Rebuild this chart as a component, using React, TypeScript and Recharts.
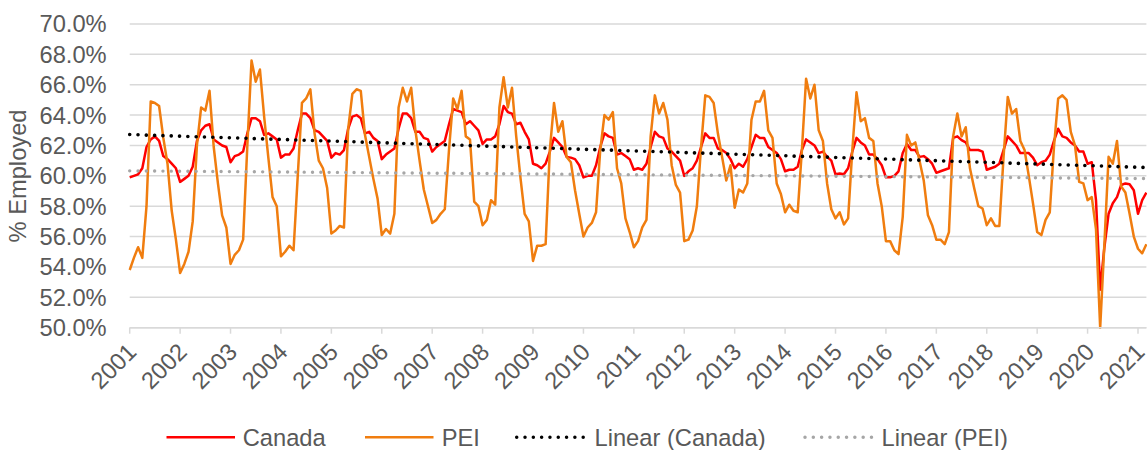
import React from 'react';
import { LineChart, Line, XAxis, YAxis, CartesianGrid, Legend } from 'recharts';

// Monthly employment rate (%), Jan 2001 – Mar 2021
const canada: number[] = [
  59.9, 60.0, 60.1, 60.5, 61.9, 62.4, 62.6, 62.3, 61.3, 61.1, 60.8, 60.5,
  59.6, 59.8, 60.0, 60.6, 62.3, 63.0, 63.3, 63.4, 62.4, 62.2, 62.0, 61.9,
  60.9, 61.3, 61.4, 61.6, 62.8, 63.8, 63.8, 63.6, 62.7, 62.8, 62.6, 62.4,
  61.2, 61.4, 61.4, 61.8, 63.0, 64.1, 64.1, 63.8, 63.0, 62.9, 62.6, 62.3,
  61.2, 61.5, 61.4, 61.7, 63.1, 63.9, 64.0, 63.8, 62.8, 62.9, 62.5, 62.3,
  61.1, 61.4, 61.6, 61.8, 63.1, 64.1, 64.1, 63.8, 62.9, 62.9, 62.5, 62.4,
  61.6, 61.9, 62.1, 62.3, 63.4, 64.4, 64.3, 64.2, 63.4, 63.6, 63.3, 63.0,
  62.1, 62.4, 62.4, 62.6, 63.4, 64.6, 64.2, 64.1, 63.4, 63.5, 62.9, 62.4,
  60.8, 60.7, 60.5, 60.8, 61.6, 62.5, 62.2, 61.9, 61.25, 61.2, 61.1, 60.7,
  59.9, 60.0, 60.0, 60.7, 61.9, 62.8, 62.6, 62.5, 61.4, 61.5, 61.3, 61.1,
  60.4, 60.5, 60.4, 60.8, 61.9, 62.9, 62.6, 62.5, 61.8, 61.6, 61.3, 61.0,
  60.0, 60.3, 60.5, 61.0, 61.9, 62.8, 62.5, 62.5, 61.8, 61.7, 61.5, 61.1,
  60.5, 60.8, 60.6, 61.1, 61.9, 62.7, 62.5, 62.5, 61.9, 61.7, 61.5, 61.1,
  60.3, 60.4, 60.4, 60.6, 61.7, 62.4, 62.2, 62.0, 61.5, 61.6, 61.25, 61.0,
  60.1, 60.15, 60.1, 60.5, 61.6, 62.5, 62.2, 62.0, 61.4, 61.4, 61.1, 60.7,
  59.9, 59.9, 60.0, 60.3, 61.5, 62.1, 61.7, 61.7, 61.25, 61.3, 61.1, 60.8,
  60.2, 60.3, 60.4, 60.5, 62.5, 62.6, 62.35, 62.2, 61.7, 61.7, 61.7, 61.6,
  60.4, 60.5, 60.6, 60.8, 61.7, 62.6, 62.3, 62.0, 61.5, 61.5, 61.5, 61.2,
  60.7, 60.9, 61.0, 61.4, 62.3, 63.1, 62.6, 62.5, 62.2, 62.0, 61.6, 61.6,
  60.8, 60.9, 58.4, 52.5, 55.3, 57.5, 58.2, 58.6, 59.4, 59.5, 59.45, 59.05,
  57.5, 58.4, 58.9,
];

const pei: number[] = [
  53.8, 54.6, 55.3, 54.6, 58.0, 64.9, 64.8, 64.6, 62.5, 60.8, 57.7, 55.8,
  53.6, 54.2, 55.0, 57.0, 62.0, 64.5, 64.3, 65.6, 61.9, 59.5, 57.4, 56.6,
  54.2, 54.8, 55.1, 55.8, 62.0, 67.6, 66.2, 67.0, 63.9, 61.2, 58.6, 58.0,
  54.7, 55.0, 55.4, 55.1, 60.0, 64.8, 65.1, 65.7, 62.8, 61.0, 60.5, 59.2,
  56.2, 56.4, 56.7, 56.6, 63.1, 65.4, 65.7, 65.6, 62.7, 61.25, 59.8, 58.5,
  56.1, 56.5, 56.2, 57.5, 64.5, 65.8, 64.9, 65.8, 63.0, 61.0, 59.1, 58.0,
  56.9, 57.1, 57.5, 57.8, 61.7, 65.1, 64.4, 65.6, 62.6, 62.4, 58.3, 58.0,
  56.75, 57.1, 58.4, 58.1, 64.5, 66.5, 64.5, 65.8, 62.6, 59.9, 57.5, 57.0,
  54.4, 55.4, 55.4, 55.5, 61.7, 64.8, 62.9, 63.6, 61.25, 60.9, 59.05, 57.5,
  56.0, 56.6, 56.9, 57.6, 61.7, 64.0, 63.7, 64.2, 60.5, 59.5, 57.2, 56.3,
  55.3, 55.7, 56.6, 57.1, 62.6, 65.3, 64.1, 64.8, 63.7, 60.7, 59.4, 58.9,
  55.7, 55.8, 56.4, 58.0, 61.9, 65.3, 65.2, 64.8, 62.8, 61.25, 59.7, 60.7,
  57.9, 59.1, 58.9, 59.5, 63.7, 64.9, 64.9, 65.6, 63.0, 62.5, 59.5, 58.8,
  57.6, 58.1, 57.7, 57.6, 61.7, 66.4, 65.1, 66.0, 63.0, 62.3, 59.5, 57.8,
  57.2, 57.6, 56.8, 57.2, 61.7, 65.5, 63.6, 63.8, 62.5, 62.3, 59.5, 58.0,
  55.7, 55.7, 55.1, 54.85, 57.3, 62.7, 62.0, 62.2, 61.0, 59.7, 57.4, 56.75,
  55.8, 55.8, 55.5, 56.3, 62.6, 64.1, 62.6, 63.2, 60.5, 59.2, 58.0, 57.85,
  56.75, 57.2, 56.7, 56.7, 61.25, 65.2, 64.1, 64.4, 62.3, 61.7, 60.0, 58.2,
  56.3, 56.1, 57.1, 57.6, 61.9, 65.1, 65.3, 65.0, 62.9, 62.0, 59.6, 59.5,
  58.4, 58.6, 56.5, 50.0, 55.5, 61.25, 60.8, 62.3, 59.3, 58.9, 57.5, 56.0,
  55.2, 54.9, 55.5,
];

// Linear trend lines: value at first and last month
const trendCanadaEnds: number[] = [62.72, 60.55];
const trendPeiEnds: number[] = [60.33, 59.82];

const yTicks: number[] = [50, 52, 54, 56, 58, 60, 62, 64, 66, 68, 70];
const monthCodes: string[] = ['01', '02', '03', '04', '05', '06', '07', '08', '09', '10', '11', '12'];
const firstYear = 2001;

const categories: string[] = canada.map(
  (_, i) => `${firstYear + Math.floor(i / 12)}-${monthCodes[i % 12]}`
);

const last = canada.length - 1;
const data = categories.map((date, i) => ({
  date,
  canada: canada[i],
  pei: pei[i],
  trendCanada: i === 0 ? trendCanadaEnds[0] : i === last ? trendCanadaEnds[1] : null,
  trendPei: i === 0 ? trendPeiEnds[0] : i === last ? trendPeiEnds[1] : null,
}));

const FONT = '"Liberation Sans", Arial, sans-serif';
const FS = 23.7;
const TEXT = '#595959';
const GRID = '#D9D9D9';
const RED = '#FF0000';
const ORANGE = '#F07D0F';
const GRAY = '#A6A6A6';

const XTick = (props: any) => {
  const { x, y, payload } = props;
  const label = String(payload.value).slice(0, 4);
  return (
    <g transform={`translate(${x + 2.5},${y + 14})`}>
      <text
        textAnchor="end"
        dominantBaseline="central"
        transform="rotate(-45)"
        fill={TEXT}
        fontSize={FS}
        fontFamily={FONT}
      >
        {label}
      </text>
    </g>
  );
};

const YLabel = () => (
  <text
    x={17.5}
    y={176}
    transform="rotate(-90, 17.5, 176)"
    textAnchor="middle"
    dominantBaseline="central"
    fill={TEXT}
    fontSize={FS}
    fontFamily={FONT}
  >
    % Employed
  </text>
);

const legendLayout = [
  { key: 'canada', label: 'Canada', color: RED, dotted: false, x: 166.5, tx: 242.7 },
  { key: 'pei', label: 'PEI', color: ORANGE, dotted: false, x: 365, tx: 441.7 },
  { key: 'trendCanada', label: 'Linear (Canada)', color: '#000000', dotted: true, x: 516.7, tx: 594.5 },
  { key: 'trendPei', label: 'Linear (PEI)', color: GRAY, dotted: true, x: 805, tx: 881.5 },
];

const renderLegend = () => (
  <svg width={1147} height={30} style={{ display: 'block' }}>
    {legendLayout.map((it) => (
      <g key={it.key}>
        {it.dotted ? (
          <line
            x1={it.x}
            x2={it.x + 69}
            y1={15.3}
            y2={15.3}
            stroke={it.color}
            strokeWidth={3.5}
            strokeLinecap="round"
            strokeDasharray="0.01 8.3"
          />
        ) : (
          <line x1={it.x} x2={it.x + 68.5} y1={15.3} y2={15.3} stroke={it.color} strokeWidth={2.6} />
        )}
        <text x={it.tx} y={23.6} fill={TEXT} fontSize={FS} fontFamily={FONT}>
          {it.label}
        </text>
      </g>
    ))}
  </svg>
);

export default function App() {
  return (
    <div style={{ position: 'absolute', left: 0, top: 0, width: 1147, height: 450, background: '#fff' }}>
      <LineChart
        width={1147}
        height={450}
        data={data}
        margin={{ top: 24, right: 0.6, bottom: 0, left: 0 }}
      >
        <CartesianGrid vertical={false} stroke={GRID} strokeWidth={1.5} />
        <XAxis
          dataKey="date"
          type="category"
          interval={11}
          height={122.3}
          axisLine={{ stroke: GRID, strokeWidth: 1.5 }}
          tickLine={{ stroke: GRID, strokeWidth: 1.5 }}
          tickSize={6}
          tickMargin={0}
          tick={<XTick />}
        />
        <YAxis
          type="number"
          domain={[50, 70]}
          ticks={yTicks}
          interval={0}
          width={129.7}
          axisLine={false}
          tickLine={false}
          tickSize={6}
          tickMargin={17}
          tick={{ fill: TEXT, fontSize: FS, fontFamily: FONT }}
          tickFormatter={(v: number) => `${v.toFixed(1)}%`}
          label={YLabel}
        />
        <Line
          dataKey="canada"
          type="linear"
          stroke={RED}
          strokeWidth={2.5}
          dot={false}
          activeDot={false}
          isAnimationActive={false}
          strokeLinejoin="round"
        />
        <Line
          dataKey="pei"
          type="linear"
          stroke={ORANGE}
          strokeWidth={2.5}
          dot={false}
          activeDot={false}
          isAnimationActive={false}
          strokeLinejoin="round"
        />
        <Line
          dataKey="trendCanada"
          type="linear"
          connectNulls
          stroke="#000000"
          strokeWidth={3.6}
          strokeLinecap="round"
          strokeDasharray="0.01 8.3"
          dot={false}
          activeDot={false}
          isAnimationActive={false}
        />
        <Line
          dataKey="trendPei"
          type="linear"
          connectNulls
          stroke={GRAY}
          strokeWidth={3.4}
          strokeLinecap="round"
          strokeDasharray="0.01 8.3"
          dot={false}
          activeDot={false}
          isAnimationActive={false}
        />
        <Legend
          layout="horizontal"
          verticalAlign="middle"
          align="center"
          width={1147}
          wrapperStyle={{ left: 0, top: 422, width: 1147, height: 30 }}
          content={renderLegend}
        />
      </LineChart>
    </div>
  );
}
